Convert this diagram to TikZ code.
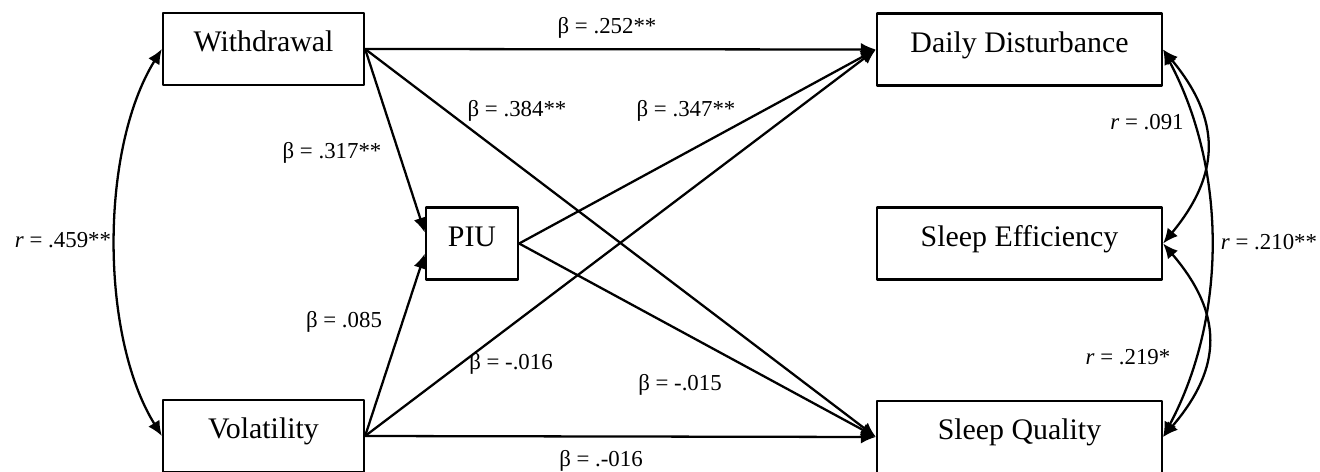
\documentclass[tikz,border=0pt]{standalone}
\usepackage{fontspec}
\setmainfont{Liberation Serif}
\usetikzlibrary{arrows.meta}
\usetikzlibrary{positioning}

\begin{document}
\begin{tikzpicture}[line cap=round,line join=round,x=0.02cm,y=-0.02cm,
  box/.style={draw,line width=1.3pt,minimum height=1.44cm,text height=0.4cm,text depth=0.3cm,font=\fontsize{17}{20}\selectfont},
  arr/.style={line width=1.3pt,-{Latex[length=8.5pt,width=7.5pt]}},
  cor/.style={line width=1.3pt,{Latex[length=8.5pt,width=7.5pt]}-{Latex[length=8.5pt,width=7.5pt]}},
  lbl/.style={font=\fontsize{13}{15}\selectfont}]
\useasboundingbox (0,0) rectangle (1320,471);
% boxes
\node[box,minimum width=4.02cm] (wd) at (263.5,49) {Withdrawal};
\node[box,minimum width=4.02cm] (vol) at (263.5,436) {Volatility};
\node[box,minimum width=1.84cm] (piu) at (472,243.5) {PIU};
\node[box,minimum width=5.7cm] (dd) at (1019.5,49.5) {Daily Disturbance};
\node[box,minimum width=5.7cm] (se) at (1019.5,243.5) {Sleep Efficiency};
\node[box,minimum width=5.7cm] (sq) at (1019.5,437) {Sleep Quality};
% paths
\draw[arr] (wd.east) -- (dd.west);
\draw[arr] (wd.east) -- (sq.west);
\draw[arr] (wd.east) -- (piu.167);
\draw[arr] (vol.east) -- (piu.192);
\draw[arr] (vol.east) -- (dd.west);
\draw[arr] (vol.east) -- (sq.west);
\draw[arr] (piu.east) -- (dd.west);
\draw[arr] (piu.east) -- (sq.west);
% correlations
\draw[cor] (wd.west) .. controls +(-62,100) and +(-62,-100) .. (vol.west);
\draw[cor] (dd.east) .. controls +(58,70) and +(58,-70) .. (se.east);
\draw[cor] (dd.east) .. controls +(64,120) and +(64,-120) .. (sq.east);
\draw[cor] (se.east) .. controls +(60,70) and +(60,-70) .. (sq.east);
% labels
\node[lbl] (b1) at (607,28) {β = .252**};
\node[lbl] (b2) at (517,111) {β = .384**};
\node[lbl] (b3) at (686,111) {β = .347**};
\node[lbl] (b4) at (332,153) {β = .317**};
\node[lbl] (b5) at (344,322) {β = .085};
\node[lbl] (b6) at (511,364) {β = -.016};
\node[lbl] (b7) at (680,385) {β = -.015};
\node[lbl] (b8) at (601,461) {β = .-016};
\node[lbl] (r1) at (63,240) {\textit{r} = .459**};
\node[lbl] (r2) at (1147,122) {\textit{r} = .091};
\node[lbl] (r3) at (1269,242) {\textit{r} = .210**};
\node[lbl] (r4) at (1128,357) {\textit{r} = .219*};
\end{tikzpicture}
\end{document}
